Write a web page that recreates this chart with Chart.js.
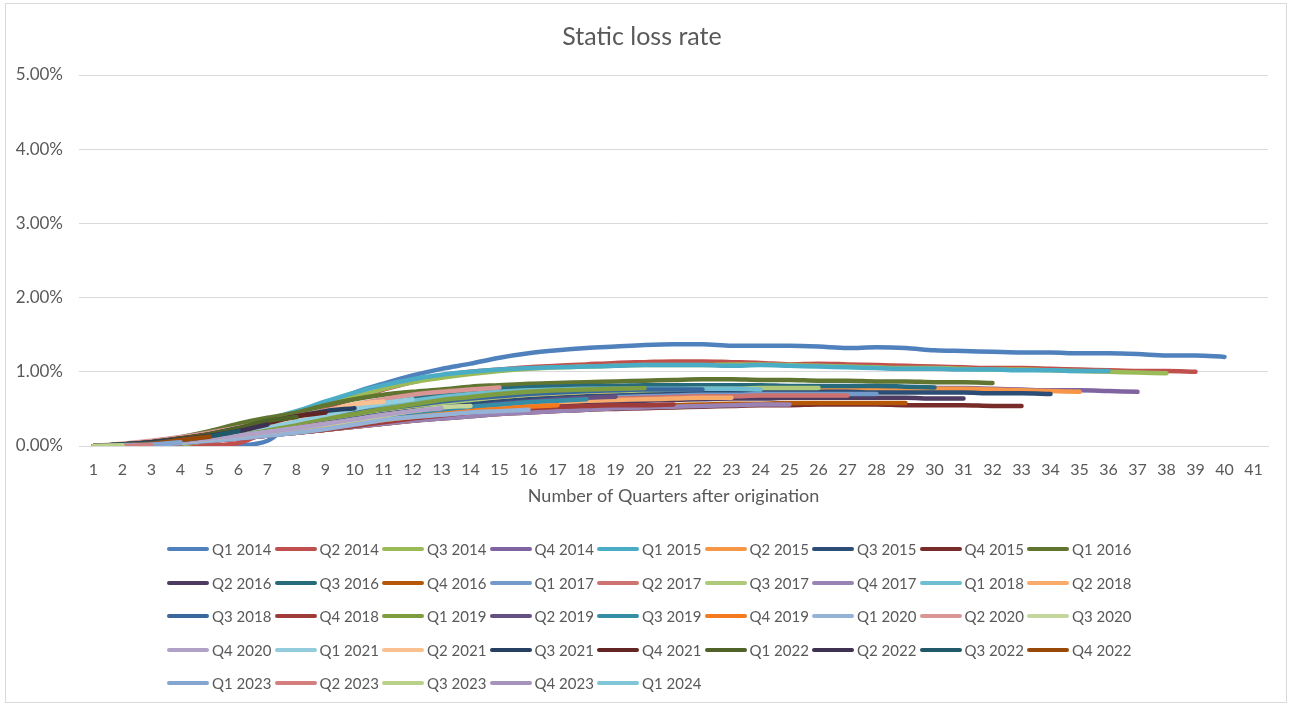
<!DOCTYPE html>
<html>
<head>
<meta charset="utf-8">
<title>Static loss rate</title>
<script src="https://cdn.jsdelivr.net/npm/chart.js@4.4.1/dist/chart.umd.min.js"></script>
<style>
  body { margin: 0; background: #fff; font-family: Lato, sans-serif; }
  #wrap { position: relative; width: 1292px; height: 706px; overflow: hidden; }
  #frame { position: absolute; left: 5px; top: 3px; width: 1280px; height: 698px; border: 1px solid #d9d9d9; }
  #chart { position: absolute; left: 0; top: 0; }
  .item { position: absolute; height: 20px; display: flex; align-items: center; font-size: 15px; color: #595959; white-space: nowrap; }
  .swatch { width: 42px; height: 4px; border-radius: 2px; margin-right: 3px; }
</style>
</head>
<body>
<div id="wrap">
  <div id="frame"></div>
  <canvas id="chart" width="1292" height="706"></canvas>
  <div id="legend"></div>
</div>
<script>
// quarters after origination
const quarters = ['1','2','3','4','5','6','7','8','9','10','11','12','13','14','15','16','17','18','19','20',
  '21','22','23','24','25','26','27','28','29','30','31','32','33','34','35','36','37','38','39','40','41'];

const vintages = ['Q1 2014','Q2 2014','Q3 2014','Q4 2014','Q1 2015','Q2 2015','Q3 2015','Q4 2015','Q1 2016',
  'Q2 2016','Q3 2016','Q4 2016','Q1 2017','Q2 2017','Q3 2017','Q4 2017','Q1 2018','Q2 2018',
  'Q3 2018','Q4 2018','Q1 2019','Q2 2019','Q3 2019','Q4 2019','Q1 2020','Q2 2020','Q3 2020',
  'Q4 2020','Q1 2021','Q2 2021','Q3 2021','Q4 2021','Q1 2022','Q2 2022','Q3 2022','Q4 2022',
  'Q1 2023','Q2 2023','Q3 2023','Q4 2023','Q1 2024'];

// static loss rate in %
const q1_2014 = [0,0,0,0,0,0.01,0.07,0.36,0.55,0.72,0.84,0.95,1.04,1.11,1.19,1.25,1.29,1.32,1.34,1.36,1.37,1.37,1.35,1.35,1.35,1.34,1.32,1.33,1.32,1.29,1.28,1.27,1.26,1.26,1.25,1.25,1.24,1.22,1.22,1.20];
const q2_2014 = [0,0,0,0,0.01,0.04,0.2,0.38,0.52,0.64,0.76,0.86,0.95,1.0,1.03,1.06,1.08,1.1,1.12,1.13,1.14,1.14,1.13,1.12,1.1,1.11,1.1,1.09,1.08,1.07,1.06,1.05,1.05,1.04,1.03,1.02,1.01,1.01,1.0];
const q3_2014 = [0,0,0,0.02,0.08,0.18,0.3,0.42,0.55,0.66,0.77,0.86,0.92,0.97,1.01,1.04,1.06,1.07,1.08,1.09,1.09,1.09,1.1,1.1,1.09,1.08,1.07,1.06,1.05,1.05,1.04,1.03,1.03,1.02,1.01,1.0,0.99,0.98];
const q4_2014 = [0,0,0.01,0.04,0.09,0.15,0.22,0.29,0.36,0.43,0.49,0.55,0.6,0.64,0.68,0.71,0.73,0.75,0.76,0.77,0.78,0.79,0.79,0.8,0.8,0.8,0.8,0.79,0.79,0.78,0.78,0.77,0.76,0.75,0.75,0.74,0.73];
const q1_2015 = [0,0.02,0.06,0.1,0.15,0.25,0.36,0.47,0.6,0.72,0.82,0.9,0.96,1.0,1.03,1.05,1.06,1.07,1.08,1.09,1.09,1.09,1.08,1.09,1.08,1.07,1.06,1.05,1.04,1.04,1.03,1.03,1.02,1.02,1.01,1.01];
const q2_2015 = [0,0.01,0.03,0.06,0.1,0.15,0.21,0.27,0.33,0.39,0.45,0.5,0.55,0.59,0.62,0.65,0.67,0.69,0.7,0.71,0.72,0.73,0.74,0.75,0.75,0.76,0.76,0.76,0.77,0.77,0.77,0.76,0.75,0.74,0.73];
const q3_2015 = [0,0.01,0.03,0.06,0.1,0.15,0.2,0.26,0.32,0.38,0.43,0.48,0.53,0.57,0.6,0.63,0.65,0.67,0.68,0.7,0.71,0.72,0.72,0.73,0.73,0.73,0.73,0.72,0.72,0.72,0.72,0.71,0.71,0.7];
const q4_2015 = [0,0.01,0.02,0.04,0.07,0.1,0.14,0.18,0.22,0.26,0.3,0.34,0.37,0.4,0.43,0.45,0.47,0.49,0.5,0.51,0.52,0.53,0.54,0.55,0.55,0.56,0.56,0.56,0.55,0.55,0.55,0.54,0.54];
const q1_2016 = [0,0.02,0.06,0.12,0.2,0.3,0.38,0.45,0.55,0.63,0.69,0.73,0.76,0.8,0.82,0.84,0.85,0.86,0.87,0.88,0.89,0.9,0.9,0.89,0.89,0.88,0.88,0.87,0.87,0.86,0.86,0.85];
const q2_2016 = [0,0.01,0.03,0.05,0.08,0.12,0.16,0.21,0.26,0.31,0.36,0.4,0.44,0.48,0.51,0.54,0.56,0.58,0.6,0.61,0.62,0.63,0.64,0.64,0.65,0.65,0.65,0.65,0.65,0.64,0.64];
const q3_2016 = [0,0.01,0.04,0.09,0.15,0.22,0.3,0.38,0.46,0.53,0.59,0.65,0.7,0.74,0.77,0.79,0.8,0.81,0.81,0.82,0.82,0.82,0.82,0.82,0.81,0.81,0.81,0.81,0.8,0.79];
const q4_2016 = [0,0.01,0.02,0.04,0.07,0.1,0.14,0.18,0.22,0.26,0.3,0.34,0.38,0.41,0.44,0.47,0.49,0.51,0.53,0.54,0.55,0.56,0.57,0.57,0.58,0.58,0.58,0.58,0.58];
const q1_2017 = [0,0.01,0.03,0.06,0.1,0.14,0.19,0.24,0.29,0.34,0.39,0.44,0.48,0.52,0.56,0.59,0.62,0.64,0.66,0.67,0.68,0.69,0.69,0.7,0.7,0.7,0.7,0.7];
const q2_2017 = [0,0.01,0.03,0.06,0.1,0.15,0.2,0.25,0.3,0.35,0.4,0.44,0.48,0.52,0.55,0.58,0.6,0.62,0.64,0.65,0.66,0.67,0.67,0.68,0.68,0.68,0.68];
const q3_2017 = [0,0.01,0.04,0.08,0.13,0.19,0.25,0.31,0.37,0.43,0.49,0.54,0.58,0.62,0.66,0.69,0.71,0.73,0.74,0.75,0.76,0.77,0.77,0.78,0.78,0.78];
const q4_2017 = [0,0.01,0.02,0.04,0.07,0.1,0.14,0.18,0.22,0.26,0.3,0.34,0.37,0.4,0.43,0.45,0.47,0.49,0.51,0.52,0.53,0.54,0.55,0.56,0.56];
const q1_2018 = [0,0.02,0.05,0.1,0.16,0.23,0.3,0.37,0.44,0.5,0.56,0.61,0.66,0.7,0.73,0.75,0.76,0.77,0.77,0.77,0.77,0.77,0.77,0.76];
const q2_2018 = [0,0.01,0.03,0.06,0.1,0.14,0.19,0.24,0.29,0.34,0.39,0.43,0.47,0.51,0.54,0.57,0.59,0.61,0.62,0.63,0.64,0.65,0.65];
const q3_2018 = [0,0.02,0.05,0.1,0.15,0.21,0.27,0.33,0.39,0.45,0.5,0.55,0.6,0.64,0.67,0.7,0.72,0.74,0.75,0.76,0.76,0.76];
const q4_2018 = [0,0.01,0.02,0.04,0.07,0.1,0.14,0.18,0.22,0.27,0.32,0.37,0.41,0.45,0.48,0.51,0.53,0.54,0.55,0.55,0.56];
const q1_2019 = [0,0.02,0.05,0.09,0.14,0.19,0.25,0.31,0.37,0.43,0.5,0.56,0.62,0.66,0.7,0.73,0.75,0.76,0.77,0.78];
const q2_2019 = [0,0.01,0.03,0.06,0.1,0.14,0.19,0.24,0.29,0.34,0.39,0.44,0.49,0.53,0.57,0.6,0.63,0.65,0.665];
const q3_2019 = [0,0.01,0.03,0.06,0.1,0.14,0.19,0.24,0.29,0.34,0.39,0.44,0.49,0.53,0.56,0.59,0.61,0.63];
const q4_2019 = [0,0.01,0.02,0.05,0.08,0.12,0.16,0.2,0.25,0.3,0.35,0.39,0.43,0.47,0.5,0.53,0.55];
const q1_2020 = [0,0.01,0.02,0.04,0.07,0.1,0.14,0.18,0.23,0.29,0.35,0.39,0.42,0.45,0.47,0.49];
const q2_2020 = [0,0.03,0.07,0.12,0.18,0.25,0.32,0.4,0.48,0.56,0.63,0.69,0.73,0.76,0.79];
const q3_2020 = [0,0.01,0.03,0.06,0.1,0.14,0.19,0.24,0.29,0.35,0.41,0.47,0.52,0.54];
const q4_2020 = [0,0.01,0.03,0.06,0.1,0.14,0.19,0.24,0.3,0.36,0.42,0.47,0.51];
const q1_2021 = [0,0.02,0.05,0.09,0.14,0.2,0.27,0.34,0.42,0.5,0.58,0.63];
const q2_2021 = [0,0.02,0.05,0.1,0.16,0.23,0.31,0.39,0.47,0.56,0.6];
const q3_2021 = [0,0.02,0.05,0.1,0.16,0.24,0.32,0.4,0.47,0.51];
const q4_2021 = [0,0.02,0.05,0.1,0.16,0.23,0.31,0.4,0.45];
const q1_2022 = [0,0.02,0.05,0.1,0.16,0.24,0.34,0.39];
const q2_2022 = [0,0.02,0.05,0.09,0.14,0.2,0.29];
const q3_2022 = [0,0.02,0.04,0.08,0.13,0.2];
const q4_2022 = [0,0.01,0.03,0.08,0.125];
const q1_2023 = [0,0.01,0.02,0.05];
const q2_2023 = [0,0,0.01];
const q3_2023 = [0,0.01];
const q4_2023 = [0];
const q1_2024 = [];

const lossRates = [q1_2014,q2_2014,q3_2014,q4_2014,q1_2015,q2_2015,q3_2015,q4_2015,q1_2016,
  q2_2016,q3_2016,q4_2016,q1_2017,q2_2017,q3_2017,q4_2017,q1_2018,q2_2018,
  q3_2018,q4_2018,q1_2019,q2_2019,q3_2019,q4_2019,q1_2020,q2_2020,q3_2020,
  q4_2020,q1_2021,q2_2021,q3_2021,q4_2021,q1_2022,q2_2022,q3_2022,q4_2022,
  q1_2023,q2_2023,q3_2023,q4_2023,q1_2024];

const colores = ['#4F81BD','#C0504D','#9BBB59','#8064A2','#4BACC6','#F79646',
  '#2C4D75','#772C2A','#5F7530','#4D3B62','#276A7C','#B65708',
  '#729ACA','#CD7371','#AFC97A','#9983B5','#6FBDD1','#F9AB6B',
  '#3A679C','#9F3B38','#7E9D40','#664F83','#358EA6','#F47A1F',
  '#95B3D7','#D99694','#C3D69B','#B2A1C7','#93CDDD','#FAC090',
  '#254061','#632523','#4F6228','#3F3151','#215968','#984807',
  '#84A5D0','#D47F7D','#B9D08A','#A593BD','#81C5D8'];

const fuente = 'Lato, sans-serif';
const gris = '#595959';

const datasets = vintages.map((v, i) => ({
  label: v,
  data: lossRates[i],
  borderColor: colores[i],
  backgroundColor: colores[i],
  borderWidth: 4.5,
  pointRadius: 0,
  cubicInterpolationMode: 'monotone',
  fill: false,
  borderCapStyle: 'round',
  borderJoinStyle: 'round',
  order: vintages.length - i   // later vintages on top, like excel
}));

new Chart(document.getElementById('chart'), {
  type: 'line',
  data: { labels: quarters, datasets: datasets },
  options: {
    responsive: false,
    animation: false,
    layout: { padding: { left: 16, right: 24, top: 0, bottom: 199 } },
    plugins: {
      legend: { display: false },
      tooltip: { enabled: false },
      title: {
        display: true,
        text: 'Static loss rate',
        color: gris,
        font: { family: fuente, size: 25, weight: 'normal' },
        padding: { top: 22, bottom: 23 }
      }
    },
    scales: {
      x: {
        offset: true,
        grid: { display: false },
        border: { color: '#d9d9d9' },
        ticks: { color: gris, font: { family: fuente, size: 16 }, padding: 6, maxRotation: 0, autoSkip: false },
        title: {
          display: true,
          text: 'Number of Quarters after origination',
          color: gris,
          font: { family: fuente, size: 18 },
          padding: { top: 4, bottom: 0 }
        },
        afterFit: (scale) => { scale.height = 61; }
      },
      y: {
        min: 0,
        max: 5,
        ticks: {
          stepSize: 1,
          color: gris,
          font: { family: fuente, size: 17 },
          padding: 16,
          callback: (v) => v.toFixed(2) + '%'
        },
        grid: { color: '#d9d9d9', drawTicks: false },
        border: { display: false },
        afterFit: (scale) => { scale.width = 63; }
      }
    }
  }
});

// legend like excel: 9 columns, last row left aligned
const legend = document.getElementById('legend');
vintages.forEach((v, i) => {
  const col = i % 9;
  const row = Math.floor(i / 9);
  const item = document.createElement('div');
  item.className = 'item';
  item.style.left = (167 + col * 107.5) + 'px';
  item.style.top = (539 + row * 33.5) + 'px';
  item.innerHTML = `<span class="swatch" style="background:${colores[i]}"></span>${v}`;
  legend.appendChild(item);
});
</script>
</body>
</html>
